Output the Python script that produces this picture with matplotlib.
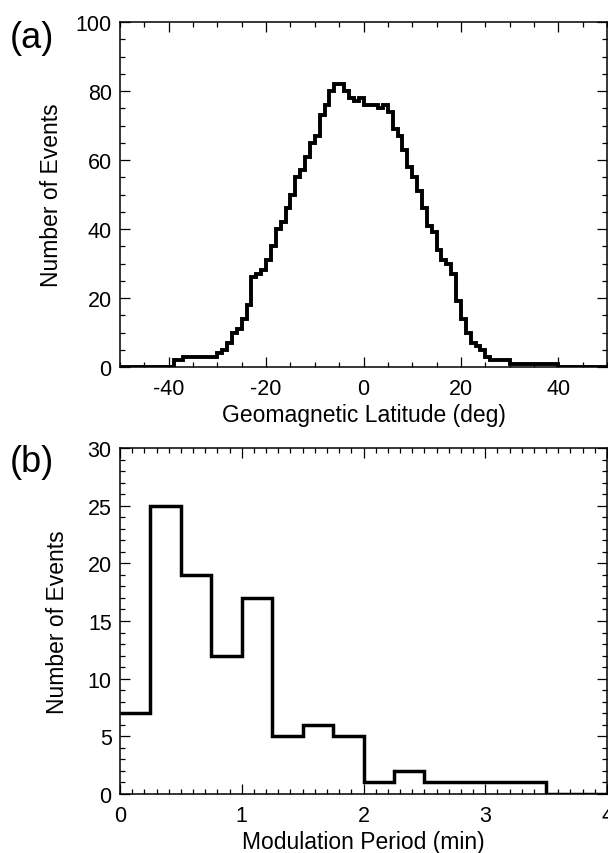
import matplotlib
matplotlib.use("Agg")
import matplotlib.pyplot as plt
import numpy as np
from matplotlib.ticker import MultipleLocator

plt.rcParams['font.family'] = ['Liberation Sans', 'DejaVu Sans']
plt.rcParams['axes.unicode_minus'] = False

# (a) events per 1-deg latitude bin, -50 .. 50
lat_edges = np.arange(-50, 51, 1)
lat_counts = [0] * 11 + [
    2, 2, 3, 3, 3, 3, 3, 3, 3, 4, 5, 7, 10, 11, 14, 18,          # -39 .. -24
    26, 27, 28, 31, 35, 40, 42, 46, 50, 55, 57, 61, 65, 67,      # -23 .. -10
    73, 76, 80, 82, 82, 80, 78, 77, 78,                          # -9 .. -1
    76, 76, 76, 75, 76, 74, 69, 67, 63, 58, 55, 51, 46, 41,      # 0 .. 13
    39, 34, 31, 30, 27, 19, 14, 10, 7, 6, 5, 3,                  # 14 .. 25
    2, 2, 2, 2,                                                  # 26 .. 29
] + [1] * 10 + [0] * 10

# (b) modulation period histogram, 0.25 min bins
period_edges = np.arange(0, 4.01, 0.25)
period_counts = [7, 25, 19, 12, 17, 5, 6, 5, 1, 2, 1, 1, 1, 1, 0, 0]

W, H = 608, 854
fig = plt.figure(figsize=(W / 100, H / 100), dpi=100)

ax1 = fig.add_axes([120 / W, 1 - 368 / H, 487 / W, 345 / H])
ax2 = fig.add_axes([120 / W, 1 - 795 / H, 487 / W, 346 / H])


def style(ax):
    for s in ax.spines.values():
        s.set_linewidth(1.1)
    ax.tick_params(which='both', direction='in', top=True, right=True,
                   width=0.9, labelsize=15.5)
    ax.tick_params(which='major', length=7)
    ax.tick_params(which='minor', length=3.6)
    ax.tick_params(axis='x', pad=8)
    ax.tick_params(axis='y', pad=6)


ax1.stairs(lat_counts, lat_edges, color='black', linewidth=2.8, baseline=None)
ax1.set_xlim(-50, 50)
ax1.set_ylim(0, 100)
ax1.xaxis.set_major_locator(MultipleLocator(20))
ax1.xaxis.set_minor_locator(MultipleLocator(5))
ax1.yaxis.set_major_locator(MultipleLocator(20))
ax1.yaxis.set_minor_locator(MultipleLocator(5))
style(ax1)
ax1.set_xlabel('Geomagnetic Latitude (deg)', fontsize=16.5, labelpad=3)
ax1.set_ylabel('Number of Events', fontsize=16.5, labelpad=9)

ax2.stairs(period_counts, period_edges, color='black', linewidth=2.5, baseline=None)
ax2.set_xlim(0, 4)
ax2.set_ylim(0, 30)
ax2.xaxis.set_major_locator(MultipleLocator(1))
ax2.xaxis.set_minor_locator(MultipleLocator(0.1))
ax2.yaxis.set_major_locator(MultipleLocator(5))
ax2.yaxis.set_minor_locator(MultipleLocator(1))
style(ax2)
ax2.set_xlabel('Modulation Period (min)', fontsize=16.5, labelpad=3)
ax2.set_ylabel('Number of Events', fontsize=16.5, labelpad=13)

fig.text(10 / W, 1 - 38 / H, '(a)', fontsize=26, va='center', ha='left')
fig.text(10 / W, 1 - 462 / H, '(b)', fontsize=26, va='center', ha='left')

fig.savefig('out.png', dpi=100)
